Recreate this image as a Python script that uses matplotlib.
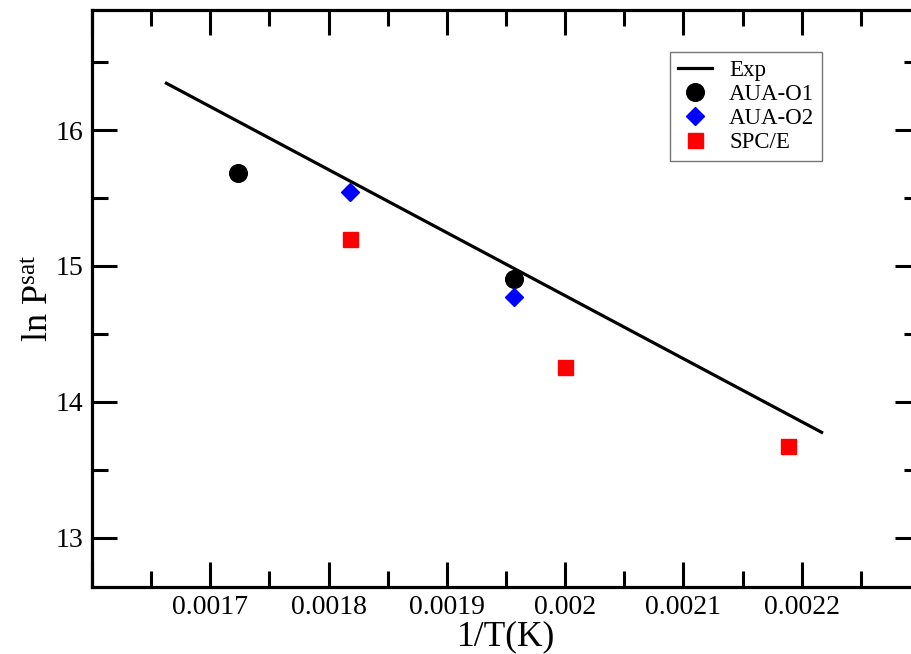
import matplotlib
matplotlib.use("Agg")
import matplotlib.pyplot as plt
from matplotlib.ticker import MultipleLocator, FuncFormatter

plt.rcParams['font.family'] = 'Liberation Serif'
plt.rcParams['mathtext.fontset'] = 'custom'
plt.rcParams['mathtext.rm'] = 'Liberation Serif'
plt.rcParams['mathtext.it'] = 'Liberation Serif:italic'

# experimental line (end points)
exp_x = [0.0016629, 0.0022168]
exp_y = [16.344, 13.776]

# simulation points
aua1_x = [0.0017234, 0.0019569]
aua1_y = [15.681, 14.904]

aua2_x = [0.0018181, 0.0019569]
aua2_y = [15.546, 14.773]

spce_x = [0.0018181, 0.0020002, 0.0021886]
spce_y = [15.198, 14.254, 13.675]

W, H = 912, 654
fig = plt.figure(figsize=(W / 100, H / 100), dpi=100)
# right spine sits just past the image edge in the original
ax = fig.add_axes([92 / W, (H - 586.7) / H, (920 - 92) / W, (586.7 - 10) / H])

ax.plot(exp_x, exp_y, color='black', lw=2.3, label='Exp')
ax.plot(aua1_x, aua1_y, 'o', color='black', ms=12.7, ls='none', label='AUA-O1')
ax.plot(aua2_x, aua2_y, 'D', color='blue', ms=9.2, ls='none', label='AUA-O2')
ax.plot(spce_x, spce_y, 's', color='red', ms=10.8, ls='none', label='SPC/E')

ax.set_xlim(0.0016, 0.0023)
ax.set_ylim(12.64, 16.883)

ax.xaxis.set_major_locator(MultipleLocator(0.0001))
ax.xaxis.set_minor_locator(MultipleLocator(0.00005))
ax.yaxis.set_major_locator(MultipleLocator(1))
ax.yaxis.set_minor_locator(MultipleLocator(0.5))


def xfmt(v, pos):
    if abs(v - 0.0016) < 1e-9 or abs(v - 0.0023) < 1e-9:
        return ''
    return ('%.4f' % v).rstrip('0')


def yfmt(v, pos):
    return '%d' % round(v)


ax.xaxis.set_major_formatter(FuncFormatter(xfmt))
ax.yaxis.set_major_formatter(FuncFormatter(yfmt))

ax.tick_params(which='both', direction='in', top=True, right=True, width=2.2,
               labelsize=20)
ax.tick_params(which='major', length=18, pad=6)
ax.tick_params(which='minor', length=11.5)
for s in ax.spines.values():
    s.set_linewidth(2.3)

ax.set_xlabel('1/T(K)', fontsize=25.5, labelpad=0)
ax.set_ylabel(r'ln P$^{\rm sat}$', fontsize=26, labelpad=0)

leg = ax.legend(loc='upper left', bbox_to_anchor=(670 / W, 1 - 52 / H),
                bbox_transform=fig.transFigure, borderaxespad=0,
                fontsize=16.5, frameon=True, fancybox=False, handlelength=1.5,
                handletextpad=0.75, labelspacing=0.14, borderpad=0.33,
                numpoints=1)
leg.get_frame().set_edgecolor('#555555')
leg.get_frame().set_linewidth(1.0)

fig.savefig('out.png', dpi=100)
